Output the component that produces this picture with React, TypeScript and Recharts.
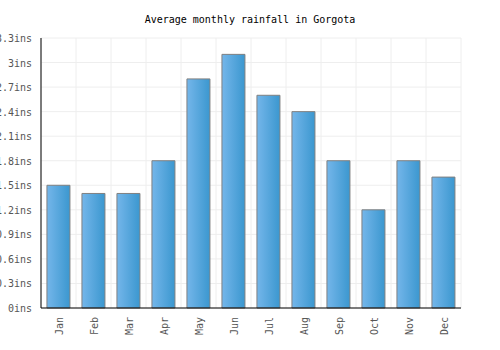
import React from "react";
import { BarChart, Bar, XAxis, YAxis, CartesianGrid } from "recharts";

const months = ["Jan", "Feb", "Mar", "Apr", "May", "Jun", "Jul", "Aug", "Sep", "Oct", "Nov", "Dec"];
const rainfall = [1.5, 1.4, 1.4, 1.8, 2.8, 3.1, 2.6, 2.4, 1.8, 1.2, 1.8, 1.6];
const yTicks = [0, 0.3, 0.6, 0.9, 1.2, 1.5, 1.8, 2.1, 2.4, 2.7, 3, 3.3];
const yTickLabels = ["0ins", "0.3ins", "0.6ins", "0.9ins", "1.2ins", "1.5ins", "1.8ins", "2.1ins", "2.4ins", "2.7ins", "3ins", "3.3ins"];
const title = "Average monthly rainfall in Gorgota";

const data = months.map((m, i) => ({ month: m, value: rainfall[i] }));
const FONT = "'DejaVu Sans Mono', monospace";

const XTick = (props: any) => {
  const { x, y, payload } = props;
  return (
    <text
      x={0}
      y={0}
      transform={`translate(${x + 4}, ${y + 1}) rotate(-90)`}
      textAnchor="end"
      fontFamily={FONT}
      fontSize={10}
      fill="#555"
    >
      {payload.value}
    </text>
  );
};

const YTick = (props: any) => {
  const { x, y, payload } = props;
  const idx = yTicks.indexOf(payload.value);
  return (
    <text x={x - 1} y={y + 4} textAnchor="end" fontFamily={FONT} fontSize={10} fill="#555">
      {idx >= 0 ? yTickLabels[idx] : String(payload.value)}
    </text>
  );
};

export default function App() {
  return (
    <div style={{ position: "absolute", left: 0, top: 0, width: 500, height: 350, background: "#fff" }}>
      <div
        style={{
          position: "absolute",
          left: 0,
          top: 14,
          width: 500,
          textAlign: "center",
          fontFamily: FONT,
          fontSize: 10,
          color: "#000",
        }}
      >
        {title}
      </div>
      <BarChart
        width={500}
        height={350}
        data={data}
        margin={{ top: 38, right: 39, bottom: 0, left: 0 }}
        barCategoryGap="17%"
      >
        <defs>
          <linearGradient id="barGrad" x1="0" y1="0" x2="1" y2="0">
            <stop offset="0%" stopColor="#74b6ea" />
            <stop offset="100%" stopColor="#3b97cf" />
          </linearGradient>
        </defs>
        <CartesianGrid
          stroke="#eeeeee"
          verticalCoordinatesGenerator={({ offset }: any) => {
            const arr: number[] = [];
            for (let i = 0; i <= months.length; i++) arr.push(offset.left + (offset.width * i) / months.length);
            return arr;
          }}
        />
        <XAxis
          dataKey="month"
          height={42}
          interval={0}
          tickLine={false}
          axisLine={{ stroke: "#000" }}
          tick={<XTick />}
        />
        <YAxis
          width={41}
          domain={[0, 3.3]}
          ticks={yTicks}
          interval={0}
          tickLine={false}
          axisLine={{ stroke: "#000" }}
          tick={<YTick />}
        />
        <Bar dataKey="value" fill="url(#barGrad)" stroke="#808080" strokeWidth={1} isAnimationActive={false} />
      </BarChart>
    </div>
  );
}
